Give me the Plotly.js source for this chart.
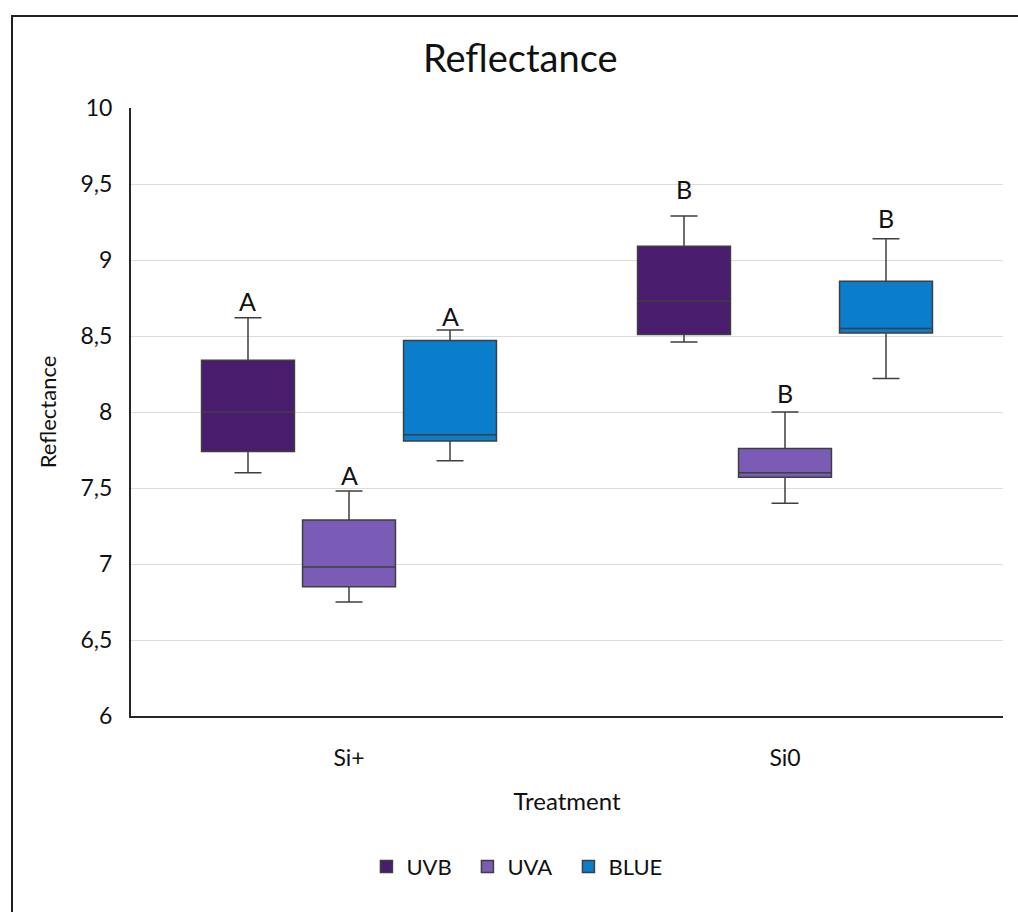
<!DOCTYPE html>
<html>
<head>
<meta charset="utf-8">
<script src="https://cdn.plot.ly/plotly-3.0.1.min.js"></script>
<style>
  html, body { margin: 0; padding: 0; background: #fff; }
  #wrap { position: relative; width: 1018px; height: 912px; overflow: hidden; }
  #chart { position: absolute; left: 0; top: 0; width: 1018px; height: 912px; }
  #frame { position: absolute; left: 11px; top: 15px; width: 1020px; height: 910px;
           border-left: 2px solid #231f20; border-top: 2px solid #231f20; pointer-events: none; }
</style>
</head>
<body>
<div id="wrap">
  <div id="chart"></div>
  <div id="frame"></div>
</div>
<script>
// ---- data ----
const categories = ['Si+', 'Si0'];
const seriesNames = ['UVB', 'UVA', 'BLUE'];

const uvbLower  = [7.60, 8.46];
const uvbQ1     = [7.74, 8.51];
const uvbMedian = [8.00, 8.73];
const uvbQ3     = [8.34, 9.09];
const uvbUpper  = [8.62, 9.29];

const uvaLower  = [6.75, 7.40];
const uvaQ1     = [6.85, 7.57];
const uvaMedian = [6.98, 7.60];
const uvaQ3     = [7.29, 7.76];
const uvaUpper  = [7.48, 8.00];

const blueLower  = [7.68, 8.22];
const blueQ1     = [7.81, 8.52];
const blueMedian = [7.85, 8.55];
const blueQ3     = [8.47, 8.86];
const blueUpper  = [8.54, 9.14];

const uvbLetters  = ['A', 'B'];
const uvaLetters  = ['A', 'B'];
const blueLetters = ['A', 'B'];

const yTicks = [6, 6.5, 7, 7.5, 8, 8.5, 9, 9.5, 10];

// ---- styling ----
const colors = ['#4a1c6e', '#7a5bb6', '#0a7dcb'];
const boxLine = '#3f3f3f';
const FONT = 'Lato, "Open Sans", sans-serif';
const BOXGAP = 0.305;
// pixel lift of each letter above its whisker cap: [series][category]
const letterShift = [[0, 10], [-1, 2], [-3, 4]];

const stats = [
  {lower: uvbLower, q1: uvbQ1, median: uvbMedian, q3: uvbQ3, upper: uvbUpper, letters: uvbLetters},
  {lower: uvaLower, q1: uvaQ1, median: uvaMedian, q3: uvaQ3, upper: uvaUpper, letters: uvaLetters},
  {lower: blueLower, q1: blueQ1, median: blueMedian, q3: blueQ3, upper: blueUpper, letters: blueLetters}
];

const traces = stats.map((s, i) => ({
  type: 'box',
  name: seriesNames[i],
  x: categories,
  q1: s.q1,
  median: s.median,
  q3: s.q3,
  lowerfence: s.lower,
  upperfence: s.upper,
  fillcolor: colors[i],
  line: {color: boxLine, width: 1.5},
  whiskerwidth: 0.29,
  boxpoints: false,
  hoverinfo: 'skip'
}));

const slot = (1 - BOXGAP) / 3;
const annotations = [];
stats.forEach((s, ti) => {
  categories.forEach((c, ci) => {
    annotations.push({
      xref: 'x', yref: 'y',
      x: ci + (ti - 1) * slot,
      y: s.upper[ci],
      text: s.letters[ci],
      showarrow: false,
      yanchor: 'bottom',
      yshift: letterShift[ti][ci],
      font: {family: FONT, size: 25, color: '#111'}
    });
  });
});

const layout = {
  width: 1018,
  height: 912,
  margin: {l: 131, r: 15, t: 108, b: 196},
  paper_bgcolor: '#ffffff',
  plot_bgcolor: '#ffffff',
  separators: ',.',
  boxmode: 'group',
  boxgap: BOXGAP,
  boxgroupgap: 0.08,
  font: {family: FONT, size: 22, color: '#111'},
  title: {
    text: 'Reflectance',
    font: {family: FONT, size: 38, color: '#111'},
    x: 0.511, xanchor: 'center', xref: 'container',
    y: 0.936, yanchor: 'middle', yref: 'container'
  },
  xaxis: {
    type: 'category',
    title: {text: 'Treatment', font: {family: FONT, size: 24, color: '#111'}, standoff: 24},
    showgrid: false,
    showline: true, linecolor: '#262626', linewidth: 2,
    ticks: 'outside', ticklen: 20, tickcolor: 'rgba(0,0,0,0)',
    tickfont: {family: FONT, size: 23, color: '#111'},
    zeroline: false,
    fixedrange: true
  },
  yaxis: {
    title: {text: 'Reflectance', font: {family: FONT, size: 22, color: '#111'}, standoff: 18},
    range: [6, 10],
    tickvals: yTicks,
    tickformat: '.1~f',
    showgrid: true, gridcolor: '#dcdcdc', gridwidth: 1,
    showline: true, linecolor: '#262626', linewidth: 2,
    ticks: 'outside', ticklen: 12, tickcolor: 'rgba(0,0,0,0)',
    tickfont: {family: FONT, size: 23, color: '#111'},
    zeroline: false,
    fixedrange: true
  },
  legend: {
    orientation: 'h',
    x: 0.27, xanchor: 'left',
    y: -0.248, yanchor: 'middle',
    font: {family: FONT, size: 22, color: '#111'},
    traceorder: 'normal',
    entrywidth: 56, entrywidthmode: 'pixels'
  },
  annotations: annotations,
  showlegend: true
};

Plotly.newPlot('chart', traces, layout, {displayModeBar: false, staticPlot: true});
</script>
</body>
</html>
